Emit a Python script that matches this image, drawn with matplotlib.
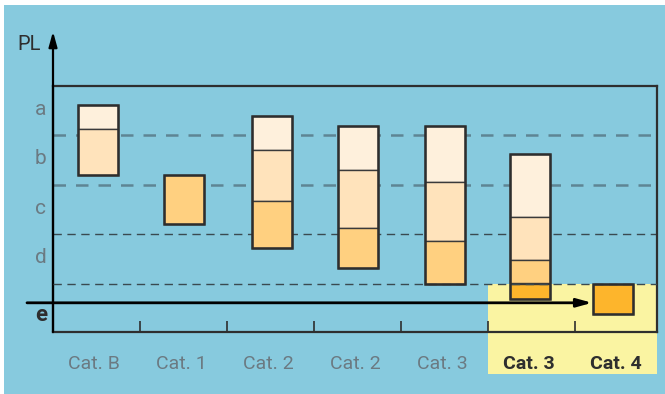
import matplotlib
matplotlib.use("Agg")
import matplotlib.pyplot as plt
from matplotlib.patches import Rectangle

# ---------------- data ----------------
categories = ["Cat. B", "Cat. 1", "Cat. 2", "Cat. 2", "Cat. 3", "Cat. 3", "Cat. 4"]
highlight = [False, False, False, False, False, True, True]
bar_x = [0.02, 0.0, 0.02, 0.0, 0.0, -0.02, -0.06]
# stacked segment boundaries (in PL level units, 0 = top, larger = lower)
bar_bounds = [
    [0.39, 0.88, 1.81],
    [1.81, 2.80],
    [0.62, 1.30, 2.33, 3.28],
    [0.82, 1.71, 2.88, 3.69],
    [0.82, 1.94, 3.15, 4.00],
    [1.38, 2.66, 3.53, 4.00, 4.32],
    [4.00, 4.61],
]
bar_colors = [
    ["#FEF0DC", "#FFE3BB"],
    ["#FFD080"],
    ["#FEF0DC", "#FFE3BB", "#FFD080"],
    ["#FEF0DC", "#FFE3BB", "#FFD080"],
    ["#FEF0DC", "#FFE3BB", "#FFD080"],
    ["#FEF0DC", "#FFE3BB", "#FFD080", "#FDB52C"],
    ["#FDB52C"],
]
level_labels = ["a", "b", "c", "d"]
level_label_pos = [0.5, 1.5, 2.5, 3.5]
dash_levels = [1, 2, 3, 4]
e_pos = 4.63
arrow_level = 4.39

plt.rcParams["font.family"] = ["Roboto", "DejaVu Sans"]

W, H = 665, 394
fig = plt.figure(figsize=(W / 100, H / 100), dpi=100, facecolor="white")
BLUE = "#87CADE"
fig.patches.append(Rectangle((4 / W, 0), 1, (H - 5) / H, transform=fig.transFigure,
                             facecolor=BLUE, edgecolor="none", zorder=-10))

left_px, right_px, top_px, bot_px = 53, 657, 85.5, 332
ax = fig.add_axes([left_px / W, (H - bot_px) / H, (right_px - left_px) / W, (bot_px - top_px) / H])
ax.set_facecolor("none")
step_px = 87
ax.set_xlim(-0.5, -0.5 + (right_px - left_px) / step_px)
ymax = (bot_px - top_px) / 49.5
ax.set_ylim(ymax, 0)

DARK = "#2E2E2E"
GREY = "#6B7A82"
for s in ax.spines.values():
    s.set_color(DARK)
    s.set_linewidth(1.6)

# yellow highlight
ax.add_patch(Rectangle((4.5, 4.0), ax.get_xlim()[1] - 4.5, 5.83 - 4.0, facecolor="#FAF4A2",
                       edgecolor="none", clip_on=False, zorder=0))

# dashed lines
for i, lv in enumerate(dash_levels):
    if i < 2:
        ax.axhline(lv, color="#5E8594", lw=1.8, dashes=(5, 4), zorder=1)
    else:
        ax.axhline(lv, color="#3A4A50", lw=1.0, dashes=(6, 4), zorder=4 if i == 3 else 1)

# bars
bw = 40 / step_px
for i, (bounds, cols) in enumerate(zip(bar_bounds, bar_colors)):
    x = i + bar_x[i]
    for j, c in enumerate(cols):
        ax.bar(x, bounds[j + 1] - bounds[j], bottom=bounds[j], width=bw, color=c,
               edgecolor="#3A3A3A", linewidth=1.0, zorder=2)
    ax.bar(x, bounds[-1] - bounds[0], bottom=bounds[0], width=bw, color="none",
           edgecolor=DARK, linewidth=1.8, zorder=5)

# ticks
ax.set_xticks([k + 0.5 for k in range(len(categories) - 1)])
ax.set_xticklabels([])
ax.set_yticks([])
ax.tick_params(axis="x", direction="in", length=8, width=1.2, color=DARK)

# category labels
for i, (cat, hl) in enumerate(zip(categories, highlight)):
    ax.text(i - 0.03, 5.63, cat, ha="center", va="center", fontsize=14,
            color=DARK if hl else GREY, fontweight="bold" if hl else "normal",
            clip_on=False)

# level labels
for lab, pos in zip(level_labels, level_label_pos):
    ax.text(-0.64, pos - 0.02, lab, ha="center", va="center", fontsize=15, color=GREY)
ax.text(-0.64, e_pos, "e", ha="center", va="center", fontsize=16, color=DARK,
        fontweight="bold")

# y axis arrow
ax.annotate("", xy=(-0.5, -1.09), xytext=(-0.5, ymax), xycoords="data",
            arrowprops=dict(arrowstyle="-|>,head_length=0.9,head_width=0.25", color="black",
                            lw=1.6, shrinkA=0, shrinkB=0), annotation_clip=False)
ax.text(-0.77, -0.83, "PL", ha="center", va="center", fontsize=14.5, color=DARK)

# horizontal arrow
ax.annotate("", xy=(-0.5 + (592 - left_px) / step_px, arrow_level),
            xytext=(-0.5 + (27 - left_px) / step_px, arrow_level),
            arrowprops=dict(arrowstyle="-|>,head_length=0.9,head_width=0.25", color="black",
                            lw=2.0, shrinkA=0, shrinkB=0), annotation_clip=False, zorder=6)

fig.savefig("out.png", dpi=100, facecolor=fig.get_facecolor())
